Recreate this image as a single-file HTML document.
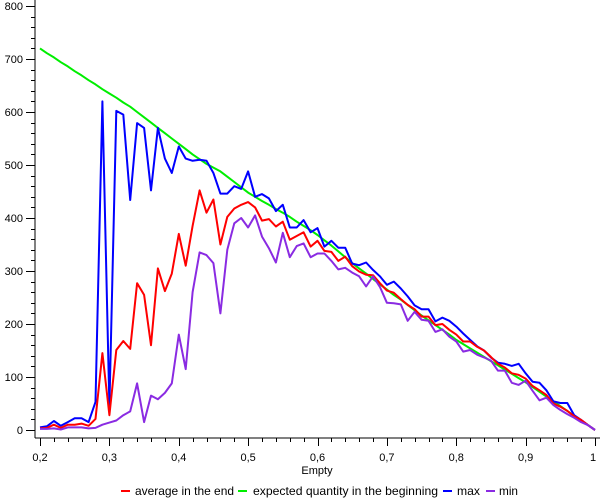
<!DOCTYPE html>
<html><head><meta charset="utf-8"><style>
body{margin:0;background:#fff;}
svg{display:block;font-family:"Liberation Sans","DejaVu Sans",sans-serif;}
</style></head><body>
<svg id="chart" width="600" height="500" viewBox="0 0 600 500" xmlns="http://www.w3.org/2000/svg">
<g id="axes"></g>
<g id="series"></g>
<g id="legend"></g>
</svg>
<script>
const xStart = 0.2;
const xStep = 0.01;
const avgEnd = [3,4,10,4,10,10,12,8,21,145,28,151,168,153,277,255,160,305,262,295,370,310,385,452,410,435,350,402,418,425,430,420,395,398,384,393,359,366,373,346,357,338,336,319,327,309,299,293,292,277,263,259,247,236,228,214,214,198,200,189,180,167,167,157,150,138,125,118,107,104,97,83,75,66,50,44,36,26,19,9,0];
const expected = [720,711,703,694,686,677,669,660,652,643,635,627,618,610,600,590,580,570,560,550,540,530,520,511,502,495,488,478,468,458,448,440,432,425,417,410,402,393,385,377,368,358,348,337,326,315,305,295,285,275,265,255,246,236,226,216,207,198,189,180,170,162,154,146,138,130,122,114,106,98,90,81,72,63,54,45,36,27,18,9,0];
const maxVals = [5,7,17,8,15,22,22,15,53,620,44,602,595,434,579,570,452,570,512,485,535,512,508,510,508,485,446,446,460,455,488,440,445,437,413,425,382,382,396,373,381,346,357,344,344,314,311,316,302,290,274,280,267,252,235,228,228,205,212,206,195,182,170,158,150,137,127,125,121,125,107,91,89,75,54,51,51,28,19,9,0];
const minVals = [2,2,3,1,5,5,5,3,4,10,14,18,28,35,88,15,65,58,70,88,180,115,260,335,330,315,220,340,390,400,382,405,365,343,316,372,326,347,352,326,333,333,319,303,306,297,290,271,290,270,240,239,237,206,223,208,206,185,190,176,167,148,151,142,137,131,112,112,89,85,93,74,56,61,47,38,30,23,15,9,0];
const xTickLabels = ["0,2","0,3","0,4","0,5","0,6","0,7","0,8","0,9","1"];
const yTickLabels = ["0","100","200","300","400","500","600","700","800"];
const seriesNames = ["average in the end","expected quantity in the beginning","max","min"];

const NS="http://www.w3.org/2000/svg";
const X0=40,X1=595,Y0=430,Y1=6,axX=35,axY=438;
const xs=v=>X0+(v-0.2)/0.8*(X1-X0);
const ys=v=>Y0-v/800*(Y0-Y1);
function mk(tag,attrs,parent,text){const e=document.createElementNS(NS,tag);for(const k in attrs)e.setAttribute(k,attrs[k]);if(text!==undefined)e.textContent=text;parent.appendChild(e);return e;}
const axes=document.getElementById('axes');
let l=mk('line',{x1:axX,y1:0,x2:axX,y2:axY,stroke:'#000','stroke-width':1},axes);


l=mk('line',{x1:axX,y1:axY,x2:600,y2:axY,stroke:'#000','stroke-width':1},axes);


for(let v=0;v<=800;v+=20){const y=Math.round(ys(v))+0.5;const major=v%100===0;
 const t=mk('line',{x1:major?axX-9:axX-4,y1:y,x2:axX,y2:y,stroke:'#000'},axes);
 
 }
yTickLabels.forEach((s,i)=>{const t=mk('text',{x:axX-12,y:ys(i*100)+4,'text-anchor':'end','font-size':11,fill:'#000'},axes,s);
 
 });
for(let i=0;i<=40;i++){const v=0.2+i*0.02;const x=Math.round(xs(v))+0.5;const major=i%5===0;
 const t=mk('line',{x1:x,y1:axY,x2:x,y2:axY+(major?8:4),stroke:'#000'},axes);
 
 }
xTickLabels.forEach((s,i)=>{const x=xs(0.2+i*0.1);const t=mk('text',{x:i===8?x-2:x,y:461,'text-anchor':'middle','font-size':11,fill:'#000'},axes,s);
 
 });
const xt=mk('text',{x:317,y:474,'text-anchor':'middle','font-size':11,fill:'#000'},axes,'Empty');


const sg=document.getElementById('series');
const data=[[avgEnd,'#ff0000','average-line'],[expected,'#00ee00','expected-line'],[maxVals,'#0000ff','max-line'],[minVals,'#8a2be2','min-line']];
const order=[1,2,0,3];
order.forEach(k=>{const [arr,col,name]=data[k];
 const pts=arr.map((v,i)=>xs(xStart+i*xStep).toFixed(1)+','+ys(v).toFixed(1)).join(' ');
 const p=mk('polyline',{points:pts,fill:'none',stroke:col,'stroke-width':2,'stroke-linejoin':'round'},sg);
 
 });
const lg=document.getElementById('legend');
const cols=['#ff0000','#00ee00','#0000ff','#8a2be2'];
const dashX=[121,238,443,486];
const textX=[135,253,457,499];
const textW=[99,185,23,19];
seriesNames.forEach((s,i)=>{
 const g=mk('g',{},lg);
 
 
 mk('line',{x1:dashX[i],y1:491,x2:dashX[i]+9,y2:491,stroke:cols[i],'stroke-width':2},g);
 mk('text',{x:textX[i],y:495,'font-size':12,fill:'#000',textLength:textW[i],lengthAdjust:'spacingAndGlyphs'},g,s);
});
</script>
</body></html>
